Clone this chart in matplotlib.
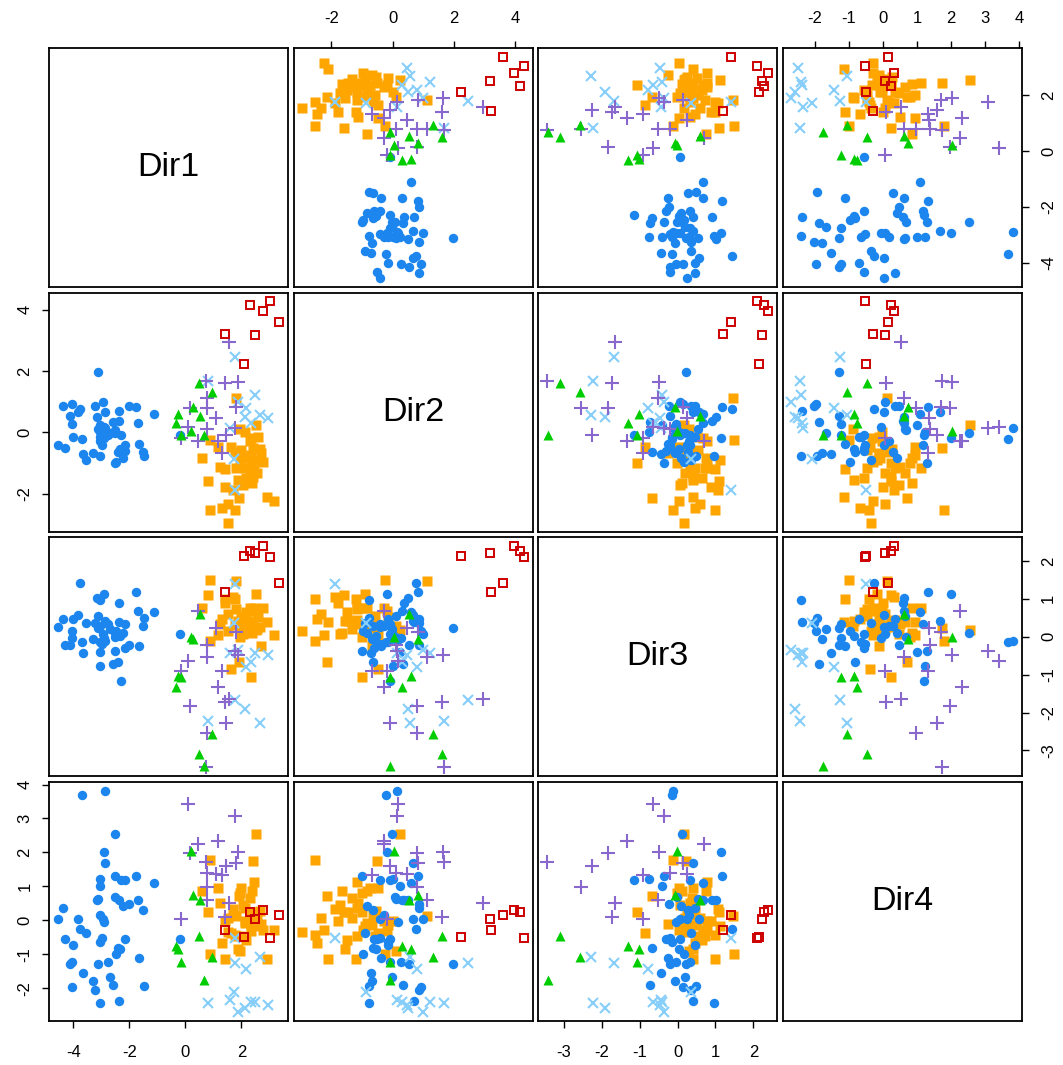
import numpy as np
import matplotlib
matplotlib.use('Agg')
from matplotlib import pyplot as plt

plt.rcParams['font.family'] = ['Liberation Sans', 'DejaVu Sans']
plt.rcParams['axes.unicode_minus'] = False

dims = ['Dir1', 'Dir2', 'Dir3', 'Dir4']

# blue circles
blue_d1 = [-1.10, -1.48, -1.51, -1.67, -1.69, -1.77, -2.01, -2.14, -2.14, -2.23, -2.29, -2.32, -2.35,
           -2.35, -2.40, -2.46, -2.52, -2.52, -2.52, -2.58, -2.70, -2.76, -2.85, -2.88, -2.92, -2.92,
           -2.94, -2.98, -3.04, -3.06, -3.06, -3.06, -3.06, -3.10, -3.10, -3.14, -3.24, -3.30, -3.56,
           -3.65, -3.69, -3.75, -3.83, -4.01, -4.04, -4.05, -4.13, -4.31, -4.35, -4.55, -0.20]
blue_d2 = [0.59, -0.79, -0.65, -0.38, 0.29, 0.82, 0.87, -0.60, -0.43, -0.83, -0.09, -0.54, 0.37,
           0.70, -0.63, -0.98, -1.01, -0.03, 0.08, 0.35, -0.03, -0.09, 0.65, 0.13, 0.18, -0.20,
           0.98, -0.43, -0.77, -0.30, -0.14, 0.02, 0.24, 0.11, 1.95, 0.49, 0.84, -0.68, -0.90,
           -0.71, -0.23, 0.76, 0.67, -0.16, 0.26, 0.91, 0.53, -0.50, 0.87, -0.43, -0.10]
blue_d3 = [0.66, 0.49, 0.27, -0.25, 0.67, 1.18, -0.22, -0.30, 0.33, 0.10, -1.16, 0.03, 0.90,
           0.40, -0.68, 0.16, -0.37, 0.11, -0.02, -0.72, 0.20, 0.33, 0.42, -0.12, -0.04, 1.14,
           0.07, -0.19, 0.96, 0.29, -0.15, -0.76, -0.41, 0.55, 0.23, 1.02, 0.36, -0.06, 0.35,
           -0.43, -0.15, 1.43, 0.57, 0.46, -0.04, 0.14, -0.21, -0.21, 0.46, 0.25, 0.07]
blue_d4 = [1.10, -1.94, 0.29, -1.11, 0.61, 1.32, 0.47, -0.56, 1.18, 0.42, 1.20, -0.86, 0.59,
           -2.38, -0.82, -0.98, 1.30, 2.54, 0.69, -1.90, -1.67, -1.23, 1.69, 3.82, -0.05, 2.00,
           0.05, -0.52, -2.43, 0.17, -0.64, 1.23, 1.01, 0.64, -1.30, 0.61, -2.04, -1.79, -0.36,
           -1.54, 3.69, -0.27, 0.03, -0.72, -1.23, -1.97, -1.30, -0.56, 0.36, 0.03, -0.56]

# orange squares
orange_d1 = [3.15, 2.92, 2.38, 2.56, 2.77, 2.71, 2.65, 2.60, 2.54, 2.30, 2.36, 2.36, 2.18, 2.12,
             2.12, 2.36, 2.12, 1.92, 1.88, 2.00, 1.94, 1.76, 1.64, 1.76, 1.52, 1.52, 1.32, 1.40,
             1.40, 1.23, 1.17, 0.89, 0.89, 0.81, 0.60, 1.82, 1.94, 2.44, 2.42, 1.99, 2.54, 1.70,
             2.30, 1.82, 2.06, 2.42]
orange_d2 = [-2.23, -2.10, -1.66, -1.34, -0.98, -0.68, -0.54, -0.14, 0.24, -1.34, -1.01, -0.74,
             -1.50, -1.17, -0.85, -0.20, 0.02, -2.13, -1.55, -0.74, -1.01, -0.63, -0.47, -2.55,
             -2.95, -2.34, -2.48, -1.79, -1.20, -1.14, -0.47, -0.25, -2.55, -1.58, -0.85, 1.11,
             0.11, -1.17, -1.45, -0.58, -0.90, -1.88, -0.30, -1.17, -1.72, -0.52]
orange_d3 = [0.04, 0.40, 0.11, 0.20, 0.77, -0.25, 0.25, 0.51, 0.18, 0.38, -1.07, 0.33, 0.64, 0.45,
             0.16, 0.68, 0.23, -0.68, 0.42, 0.40, -0.02, 0.32, -0.85, 0.99, 0.16, 0.60, 0.46, 0.88,
             0.99, 0.33, 0.04, 1.50, -0.12, 1.10, 0.75, 1.46, 0.29, 0.77, 0.42, 0.55, 1.12, 1.06,
             0.77, 0.73, 0.07, 0.23]
orange_d4 = [-0.28, -1.14, 0.86, 0.07, -0.28, -0.11, 0.27, -0.13, 2.55, 0.66, 0.24, -0.13, -0.57,
             0.36, -0.08, -0.32, -0.03, 0.71, -0.84, 0.95, 0.81, 0.17, -0.37, -0.42, -0.34, 0.07,
             -0.67, -0.01, -1.13, 0.51, 0.95, -0.99, 1.79, 0.24, 0.86, 0.12, -0.89, 1.13, 0.25,
             -0.47, -0.18, 0.33, -0.03, -0.47, 0.46, 1.74]

# light blue crosses
sky_d1 = [2.95, 2.68, 2.48, 2.36, 2.18, 2.12, 1.88, 1.76, 1.73, 1.58, 1.79, 0.81]
sky_d2 = [0.46, 0.57, 1.22, 0.29, 0.78, 0.51, 1.00, -1.88, -0.87, 0.15, 2.45, 1.67]
sky_d3 = [-0.47, -2.29, -0.42, -0.66, -0.79, -1.91, -0.35, 1.40, 0.36, -0.43, -1.67, -2.23]
sky_d4 = [-2.49, -1.07, -2.42, -2.40, -1.44, -2.59, -2.70, -0.51, -2.10, -2.36, -1.26, -2.45]

# purple plus
purple_d1 = [1.88, 1.82, 1.76, 1.46, 1.40, 1.32, 1.17, 1.11, 0.77, 0.77, 0.77, 0.75, 0.45, 0.10,
             0.15, -0.14, 1.57]
purple_d2 = [1.63, 0.82, 0.13, -0.09, 1.60, -0.68, -0.30, 0.46, 0.11, 0.78, 1.11, 1.67, -0.28,
             0.16, 0.78, -0.20, 2.96]
purple_d3 = [-0.49, 0.13, -0.37, -2.27, -1.72, -0.90, -1.34, 0.24, -0.21, -2.54, -0.53, -3.45,
             0.69, -0.64, -1.83, -0.90, -1.65]
purple_d4 = [2.02, 1.70, 3.08, 1.60, 0.09, 1.33, 2.33, 1.36, 1.39, 0.97, 0.61, 1.73, 2.26, 3.43,
             1.97, 0.05, 0.52]

# green triangles
green_d1 = [0.49, 0.94, -0.27, 0.29, 0.53, -0.33, 0.20, -0.14, 0.68]
green_d2 = [1.59, 1.30, 0.60, 0.82, 0.54, 0.30, 0.05, -0.08, -0.10]
green_d3 = [-3.10, -2.57, -1.03, -0.06, 0.60, -1.32, -0.02, -1.07, -3.42]
green_d4 = [-0.47, -1.07, -0.84, 0.74, 0.61, -0.77, 2.04, -1.23, -1.77]

# red open squares
red_d1 = [3.35, 3.03, 2.77, 2.49, 2.31, 2.10, 1.43]
red_d2 = [3.61, 4.27, 3.97, 3.17, 4.15, 2.23, 3.21]
red_d3 = [1.41, 2.10, 2.39, 2.22, 2.27, 2.14, 1.19]
red_d4 = [0.15, -0.52, 0.31, 0.05, 0.25, -0.49, -0.30]

groups = [
    ([orange_d1, orange_d2, orange_d3, orange_d4],
     dict(marker='s', ms=6.5, color='#FFA500', mec='none')),
    ([blue_d1, blue_d2, blue_d3, blue_d4],
     dict(marker='o', ms=6.8, color='#1C86EE', mec='none')),
    ([sky_d1, sky_d2, sky_d3, sky_d4],
     dict(marker='x', ms=7.4, color='#87CEFA', mew=1.5)),
    ([purple_d1, purple_d2, purple_d3, purple_d4],
     dict(marker='+', ms=9.4, color='#8968CD', mew=1.5)),
    ([green_d1, green_d2, green_d3, green_d4],
     dict(marker='^', ms=7.6, color='#00CD00', mec='none')),
    ([red_d1, red_d2, red_d3, red_d4],
     dict(marker='s', ms=6.4, mfc='none', mec='#CD0000', mew=1.4)),
]

ticks = [[-4, -2, 0, 2], [-2, 0, 2, 4], [-3, -2, -1, 0, 1, 2], [-2, -1, 0, 1, 2, 3, 4]]

# R style limits: data range padded by 4%
lims = []
for k in range(4):
    vals = np.concatenate([np.asarray(g[0][k]) for g in groups])
    lo, hi = vals.min(), vals.max()
    pad = 0.04 * (hi - lo)
    lims.append((lo - pad, hi + pad))

W, H = 1063, 1065
col_left = [49, 293.5, 538, 782.5]
row_top = [48.3, 292.5, 537.3, 781.8]
pw, ph = 239, 239

fig = plt.figure(figsize=(W / 100, H / 100), dpi=100)

for i in range(4):
    for j in range(4):
        ax = fig.add_axes([col_left[j] / W, 1 - (row_top[i] + ph) / H, pw / W, ph / H])
        for side in ax.spines.values():
            side.set_linewidth(1.3)
        ax.set_xlim(lims[j])
        ax.set_ylim(lims[i])
        ax.tick_params(which='both', bottom=False, top=False, left=False, right=False,
                       labelbottom=False, labeltop=False, labelleft=False, labelright=False,
                       length=5, width=1.0, labelsize=12)
        if i == j:
            ax.set_xticks([])
            ax.set_yticks([])
            ax.text(0.5, 0.5, dims[i], transform=ax.transAxes, ha='center', va='center',
                    fontsize=24.5)
            continue

        for data, style in groups:
            ax.plot(data[j], data[i], linestyle='none', **style)

        ax.set_xticks(ticks[j])
        ax.set_yticks(ticks[i])
        ax.set_xticklabels([str(t) for t in ticks[j]])
        ax.set_yticklabels([str(t) for t in ticks[i]])

        if i == 0 and j % 2 == 1:
            ax.tick_params(axis='x', top=True, labeltop=True, pad=11)
        if i == 3 and j % 2 == 0:
            ax.tick_params(axis='x', bottom=True, labelbottom=True, pad=12.5)
        if j == 0 and i % 2 == 1:
            ax.tick_params(axis='y', left=True, labelleft=True, pad=7)
            for lab in ax.get_yticklabels():
                lab.set_rotation(90)
                lab.set_va('center')
        if j == 3 and i % 2 == 0:
            ax.tick_params(axis='y', right=True, labelright=True, pad=9)
            for lab in ax.get_yticklabels():
                lab.set_rotation(90)
                lab.set_va('center')

fig.savefig('out.png', dpi=100)
